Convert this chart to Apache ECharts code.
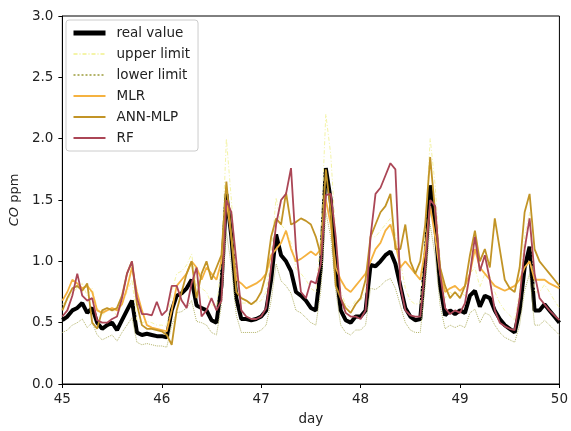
<!DOCTYPE html>
<html>
<head>
<meta charset="utf-8">
<script src="https://cdn.jsdelivr.net/npm/echarts@6/dist/echarts.min.js"></script>
<style>
html,body{margin:0;padding:0;background:#fff;}
#chart{width:571px;height:431px;}
</style>
</head>
<body>
<div id="chart"></div>
<script>
// x axis: days 45..50, one sample every 0.05 day
var days = [];
for (var i = 0; i <= 100; i++) {
    days.push(+(45 + i * 0.05).toFixed(2));
}

var realValue = [
    0.52,0.55,0.6,0.62,0.66,0.58,0.62,0.5,0.45,0.48,
    0.5,0.44,0.52,0.6,0.68,0.42,0.4,0.41,0.4,0.39,
    0.39,0.38,0.6,0.72,0.74,0.78,0.85,0.64,0.62,0.6,
    0.52,0.5,0.8,1.55,1.2,0.7,0.53,0.53,0.52,0.53,
    0.55,0.6,0.85,1.22,1.05,1.0,0.92,0.75,0.72,0.68,
    0.62,0.6,0.95,1.76,1.5,0.95,0.6,0.52,0.5,0.55,
    0.55,0.6,0.97,0.96,1.0,1.05,1.08,0.98,0.8,0.62,
    0.55,0.52,0.53,1.0,1.62,1.3,0.8,0.56,0.6,0.57,
    0.6,0.58,0.72,0.76,0.63,0.72,0.7,0.6,0.53,0.48,
    0.45,0.42,0.6,0.95,1.12,0.6,0.6,0.65,0.6,0.55,
    0.5
];
var upperLimit = [
    0.65,0.68,0.75,0.78,0.82,0.72,0.78,0.62,0.56,0.6,
    0.62,0.55,0.65,0.75,0.85,0.52,0.5,0.51,0.5,0.48,
    0.48,0.47,0.75,0.9,0.92,0.97,1.06,0.8,0.78,0.75,
    0.65,0.62,1.0,2.0,1.5,0.88,0.66,0.66,0.65,0.66,
    0.68,0.75,1.06,1.52,1.3,1.25,1.15,0.94,0.9,0.85,
    0.78,0.75,1.2,2.2,1.87,1.2,0.75,0.65,0.62,0.68,
    0.68,0.75,1.2,1.2,1.25,1.3,1.35,1.22,1.0,0.78,
    0.68,0.65,0.66,1.25,2.0,1.62,1.0,0.7,0.75,0.71,
    0.75,0.72,0.9,0.95,0.79,0.9,0.88,0.75,0.66,0.6,
    0.56,0.52,0.75,1.2,1.4,0.75,0.75,0.81,0.75,0.68,
    0.62
];
var lowerLimit = [
    0.42,0.44,0.48,0.5,0.53,0.46,0.5,0.4,0.36,0.38,
    0.4,0.35,0.42,0.48,0.54,0.34,0.32,0.33,0.32,0.31,
    0.31,0.3,0.48,0.58,0.59,0.62,0.68,0.51,0.5,0.48,
    0.42,0.4,0.64,1.24,0.96,0.56,0.42,0.42,0.42,0.42,
    0.44,0.48,0.68,0.98,0.84,0.8,0.74,0.6,0.58,0.54,
    0.5,0.48,0.76,1.4,1.2,0.76,0.48,0.42,0.4,0.44,
    0.44,0.48,0.78,0.77,0.8,0.84,0.86,0.78,0.64,0.5,
    0.44,0.42,0.42,0.8,1.3,1.04,0.64,0.45,0.48,0.46,
    0.48,0.46,0.58,0.61,0.5,0.58,0.56,0.48,0.42,0.38,
    0.36,0.34,0.48,0.76,0.9,0.48,0.48,0.52,0.48,0.44,
    0.4
];
var mlr = [
    0.68,0.75,0.85,0.82,0.78,0.8,0.75,0.6,0.58,0.6,
    0.62,0.6,0.65,0.78,0.95,0.75,0.6,0.48,0.46,0.45,
    0.44,0.43,0.6,0.8,0.85,0.9,1.0,0.95,0.85,0.95,
    0.9,0.85,1.0,1.5,1.2,0.85,0.82,0.78,0.8,0.82,
    0.85,0.9,1.05,1.1,1.15,1.25,1.1,1.0,1.02,1.05,
    1.08,1.05,1.1,1.5,1.3,0.95,0.85,0.78,0.75,0.8,
    0.85,0.9,1.0,1.1,1.15,1.25,1.3,1.15,0.95,1.0,
    0.95,0.9,0.85,1.1,1.45,1.2,0.9,0.75,0.78,0.8,
    0.76,0.8,0.9,1.1,0.95,0.9,0.85,0.8,0.78,0.76,
    0.78,0.8,0.85,0.95,1.0,0.85,0.85,0.85,0.82,0.8,
    0.78
];
var annMlp = [
    0.6,0.7,0.78,0.8,0.76,0.82,0.5,0.45,0.6,0.62,
    0.6,0.62,0.72,0.9,1.0,0.65,0.48,0.45,0.45,0.44,
    0.43,0.4,0.32,0.6,0.75,0.9,1.0,0.7,0.9,1.0,
    0.85,0.95,1.05,1.65,1.2,0.75,0.7,0.68,0.65,0.68,
    0.75,0.9,1.2,1.35,1.3,1.56,1.3,1.32,1.35,1.33,
    1.3,1.2,1.05,1.75,1.4,0.8,0.7,0.62,0.58,0.65,
    0.7,0.85,1.2,1.3,1.4,1.45,1.55,1.1,1.1,1.3,
    1.0,0.9,1.0,1.3,1.85,1.4,0.95,0.8,0.7,0.75,
    0.7,0.8,1.05,1.25,1.0,1.1,0.95,1.35,1.1,0.85,
    0.78,0.75,0.95,1.4,1.55,1.1,1.0,0.95,0.9,0.85,
    0.8
];
var rf = [
    0.55,0.6,0.72,0.9,0.72,0.68,0.7,0.52,0.5,0.5,
    0.53,0.55,0.7,0.9,1.0,0.7,0.57,0.57,0.56,0.67,
    0.56,0.6,0.8,0.8,0.68,0.62,0.82,0.95,0.55,0.6,
    0.7,0.6,0.68,1.5,1.4,1.0,0.6,0.55,0.53,0.53,
    0.55,0.62,0.95,1.3,1.5,1.55,1.76,1.1,0.75,0.7,
    0.84,0.82,0.98,1.54,1.55,1.2,0.7,0.58,0.55,0.55,
    0.53,0.6,1.2,1.55,1.6,1.7,1.8,1.75,0.8,0.6,
    0.56,0.55,0.55,0.95,1.5,1.45,0.9,0.62,0.57,0.6,
    0.58,0.66,0.9,1.2,0.92,1.05,0.85,0.6,0.5,0.47,
    0.45,0.44,0.7,1.1,1.35,0.9,0.7,0.65,0.6,0.56,
    0.52
];

var yTicks = [0, 0.5, 1.0, 1.5, 2.0, 2.5, 3.0];

function pairs(vals) {
    return days.map(function (d, k) { return [d, vals[k]]; });
}

function line(name, vals, color, width, type) {
    return {
        name: name,
        type: 'line',
        symbol: 'none',
        silent: true,
        animation: false,
        lineStyle: { color: color, width: width, type: type || 'solid' },
        itemStyle: { color: color },
        data: pairs(vals)
    };
}

var chart = echarts.init(document.getElementById('chart'));
chart.setOption({
    backgroundColor: '#fff',
    animation: false,
    textStyle: { fontFamily: 'DejaVu Sans' },
    grid: {
        left: 62, right: 9, top: 16, bottom: 42,
        show: true, borderColor: '#000', borderWidth: 1
    },
    legend: {
        orient: 'vertical',
        left: 66, top: 20,
        backgroundColor: '#fff',
        borderColor: '#ccc',
        borderWidth: 1,
        borderRadius: 3,
        padding: [6, 8, 6, 5],
        itemGap: 7,
        itemWidth: 32,
        itemHeight: 14,
        itemStyle: { opacity: 0 },
        textStyle: { fontSize: 13.5, color: '#222', fontFamily: 'DejaVu Sans', padding: [0, 0, 0, 6] },
        data: [
            { name: 'real value', lineStyle: { width: 5 } },
            'upper limit', 'lower limit', 'MLR', 'ANN-MLP', 'RF'
        ]
    },
    xAxis: {
        type: 'value',
        min: 45, max: 50, interval: 1,
        name: 'day',
        nameLocation: 'middle',
        nameGap: 28,
        nameTextStyle: { fontSize: 13.5, color: '#222' },
        axisLine: { lineStyle: { color: '#000' } },
        axisTick: { inside: false, length: 4, lineStyle: { color: '#000' } },
        axisLabel: { fontSize: 13.5, color: '#222', margin: 8 },
        splitLine: { show: false }
    },
    yAxis: {
        type: 'value',
        min: 0, max: 3, interval: 0.5,
        name: '{i|CO} ppm',
        nameLocation: 'middle',
        nameGap: 37,
        nameTextStyle: {
            fontSize: 13, color: '#222',
            rich: { i: { fontStyle: 'italic', fontSize: 13, color: '#222' } }
        },
        axisLine: { show: true, lineStyle: { color: '#000' } },
        axisTick: { show: true, inside: false, length: 4, lineStyle: { color: '#000' } },
        axisLabel: {
            fontSize: 13.5, color: '#222', margin: 9,
            formatter: function (v) {
                return yTicks.indexOf(v) >= 0 ? v.toFixed(1) : '';
            }
        },
        splitLine: { show: false }
    },
    series: [
        line('real value', realValue, '#000000', 4),
        line('upper limit', upperLimit, '#f4f4a8', 1, [4, 2, 1, 2]),
        line('lower limit', lowerLimit, '#b4b46a', 1, 'dotted'),
        line('MLR', mlr, '#f5b240', 1.8),
        line('ANN-MLP', annMlp, '#c29426', 1.8),
        line('RF', rf, '#ab4656', 1.8)
    ]
});
</script>
</body>
</html>
